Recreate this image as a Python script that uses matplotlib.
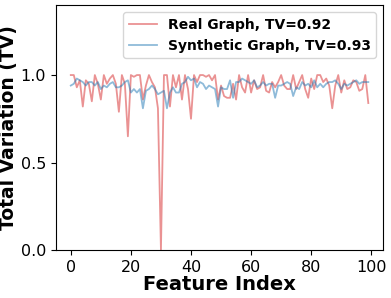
import matplotlib
matplotlib.use("Agg")
import matplotlib.pyplot as plt
import numpy as np

feature_index = list(range(100))
real_tv = [1.0, 1.0, 0.93, 0.97, 0.82, 0.97, 0.95, 0.85, 1.0, 0.95,
           0.86, 1.0, 0.95, 0.98, 1.0, 0.95, 0.79, 1.0, 0.95, 0.65,
           1.0, 0.99, 1.0, 1.0, 0.86, 0.94, 1.0, 0.96, 0.93, 0.81,
           0.0, 1.0, 1.0, 0.82, 1.0, 0.93, 1.0, 0.86, 1.0, 0.92,
           0.75, 1.0, 0.96, 1.0, 1.0, 0.99, 1.0, 0.97, 1.0, 0.86,
           0.94, 0.88, 0.87, 0.87, 0.95, 0.86, 1.0, 0.93, 0.9, 1.0,
           0.9, 0.97, 0.92, 0.93, 1.0, 0.91, 0.9, 0.96, 0.93, 0.96,
           1.0, 0.94, 0.92, 0.92, 1.0, 0.92, 0.96, 1.0, 0.92, 0.87,
           0.98, 0.92, 1.0, 1.0, 0.96, 0.98, 0.94, 0.81, 0.94, 1.0,
           0.9, 0.97, 0.92, 0.93, 0.97, 0.96, 0.91, 0.92, 1.0, 0.84]
synthetic_tv = [0.94, 0.95, 0.98, 0.97, 0.96, 0.94, 0.96, 0.96, 0.94, 0.96,
                0.92, 0.94, 0.93, 0.95, 0.96, 0.93, 0.93, 0.94, 0.96, 0.97,
                0.90, 0.92, 0.90, 0.92, 0.81, 0.91, 0.92, 0.94, 0.92, 0.89,
                0.90, 0.91, 0.81, 0.90, 0.93, 0.90, 0.90, 0.95, 0.96, 0.99,
                0.97, 0.98, 0.93, 0.96, 0.95, 0.92, 0.94, 0.93, 0.92, 0.82,
                0.93, 0.92, 0.92, 0.97, 0.87, 0.96, 0.96, 0.98, 0.97, 0.96,
                0.95, 0.97, 0.93, 0.94, 0.96, 0.94, 0.95, 0.95, 0.87, 0.94,
                0.94, 0.95, 0.96, 0.95, 0.88, 0.93, 0.92, 0.96, 0.94, 0.95,
                0.93, 0.97, 0.93, 0.95, 0.93, 0.95, 0.96, 0.96, 0.97, 0.95,
                0.92, 0.95, 0.94, 0.95, 0.96, 0.97, 0.95, 0.96, 0.96, 0.96]
labels = ["Real Graph, TV=0.92", "Synthetic Graph, TV=0.93"]
y_ticks = [0.0, 0.5, 1.0]
x_ticks = [0, 20, 40, 60, 80, 100]

fig = plt.figure(figsize=(3.91, 2.98), dpi=100)
ax = fig.add_axes([0.143, 0.161, 0.837, 0.822])
ax.plot(feature_index, real_tv, color="tab:red", alpha=0.5, lw=1.3, label=labels[0])
ax.plot(feature_index, synthetic_tv, color="tab:blue", alpha=0.5, lw=1.3, label=labels[1])
ax.set_ylim(0, 1.4)
ax.set_yticks(y_ticks)
ax.set_xticks(x_ticks)
ax.tick_params(labelsize=11.5)
ax.set_xlabel("Feature Index", fontsize=14, fontweight="bold", labelpad=0)
ax.set_ylabel("Total Variation (TV)", fontsize=13.5, fontweight="bold", labelpad=2)
ax.legend(loc="upper right", prop={"weight": "bold", "size": 10})
fig.savefig("out.png", dpi=100)
